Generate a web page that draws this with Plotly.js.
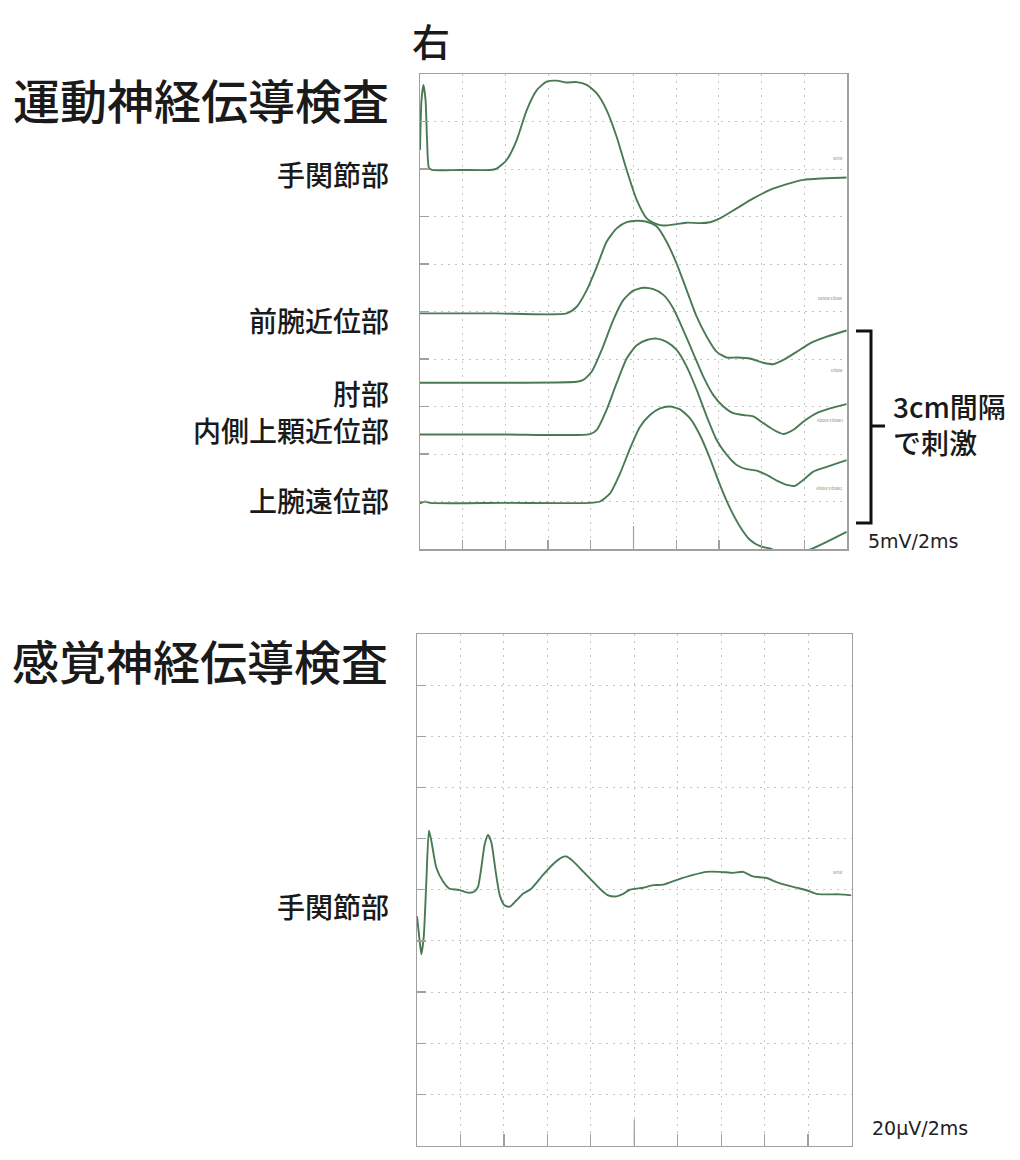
<!DOCTYPE html>
<html><head><meta charset="utf-8">
<script src="https://cdn.plot.ly/plotly-3.0.1.min.js"></script>
<style>body{margin:0;background:#fff}#chart{width:1020px;height:1160px}</style>
</head><body><div id="chart"></div>
<script>
// ---- Motor nerve conduction (x: ms, y: grid divisions, 5 mV/div) ----
const wristX = [0,0.07,0.16,0.26,0.33,0.42,0.56,1.87,3.28,3.59,4.06,4.53,5.00,5.47,5.93,6.40,6.87,7.34,7.81,8.28,8.74,9.21,9.68,10.15,10.62,11.09,11.40,12.02,12.49,13.11,13.58,14.05,14.83,15.61,16.39,17.18,17.95,18.74,19.98];
const wristY = [8.40,9.45,9.77,9.45,8.61,8.02,7.98,7.98,7.98,8.01,8.19,8.61,9.24,9.66,9.84,9.86,9.82,9.83,9.77,9.59,9.24,8.68,7.98,7.35,6.96,6.84,6.81,6.84,6.87,6.86,6.88,6.96,7.17,7.38,7.56,7.68,7.77,7.80,7.82];

const forearmX = [0,3.5,6.87,7.34,7.81,8.28,8.74,9.21,9.68,10.15,10.62,11.09,11.55,12.02,12.49,12.96,13.43,13.90,14.37,14.83,15.46,16.08,16.55,17.02,17.64,18.27,19.05,19.98];
const forearmY = [4.96,4.96,4.96,5.10,5.45,5.94,6.47,6.75,6.88,6.91,6.89,6.79,6.47,6.01,5.45,4.89,4.47,4.15,4.03,4.03,4.01,3.92,3.89,3.98,4.15,4.33,4.47,4.60];

const elbowX = [0,3.5,7.34,7.65,8.04,8.51,9.05,9.52,9.99,10.46,10.93,11.40,11.86,12.33,12.80,13.27,13.74,14.21,14.67,15.14,15.61,16.08,16.55,17.02,17.49,17.95,18.58,19.20,19.98];
const elbowY = [3.50,3.50,3.52,3.56,3.73,4.19,4.82,5.24,5.44,5.50,5.47,5.35,5.07,4.61,4.12,3.63,3.24,3.00,2.86,2.82,2.79,2.65,2.51,2.42,2.51,2.68,2.86,2.96,3.05];

const medEpiX = [0,4,7.96,8.28,8.74,9.21,9.68,10.15,10.62,11.09,11.55,12.02,12.49,12.96,13.43,13.90,14.37,14.83,15.30,15.77,16.24,16.71,17.18,17.56,17.95,18.42,19.05,19.98];
const medEpiY = [2.41,2.41,2.42,2.51,2.93,3.49,4.01,4.29,4.40,4.43,4.36,4.19,3.84,3.35,2.79,2.29,1.98,1.77,1.68,1.65,1.56,1.44,1.35,1.33,1.45,1.63,1.73,1.87];

const upperArmX = [0,0.23,0.47,4,7.96,8.43,8.90,9.37,9.84,10.30,10.77,11.24,11.71,12.18,12.65,13.11,13.58,14.05,14.52,14.99,15.46,15.93,16.39,16.9,17.4,17.9,18.27,19.05,19.98];
const upperArmY = [0.96,1.00,0.97,0.97,0.97,1.00,1.17,1.59,2.12,2.57,2.82,2.96,3.00,2.94,2.75,2.40,1.91,1.35,0.86,0.47,0.19,0.06,0.01,-0.08,-0.12,-0.05,-0.01,0.15,0.36];

// ---- Sensory nerve conduction (x: ms, y: grid divisions, 20 µV/div) ----
const sensX = [0,0.12,0.20,0.31,0.43,0.55,0.68,0.89,1.20,1.50,1.89,2.19,2.43,2.66,2.81,2.96,3.12,3.27,3.42,3.62,3.81,4.04,4.27,4.57,4.88,5.26,5.80,6.26,6.65,6.88,7.18,7.64,8.10,8.49,8.80,9.18,9.49,9.79,10.41,10.87,11.33,11.94,12.71,13.32,13.94,14.55,15.01,15.47,16.09,16.55,17.01,17.47,17.93,18.39,18.85,19.46,20.0];
const sensY = [4.48,4.01,3.74,4.08,5.16,6.16,5.91,5.43,5.16,5.02,5.00,4.96,4.94,4.97,5.06,5.43,5.90,6.07,5.93,5.36,4.89,4.69,4.67,4.79,4.92,5.02,5.29,5.50,5.63,5.65,5.56,5.36,5.16,4.99,4.89,4.87,4.92,5.00,5.04,5.09,5.10,5.19,5.29,5.35,5.35,5.33,5.35,5.26,5.23,5.15,5.09,5.04,4.99,4.92,4.91,4.91,4.89];

// ---- Text ----
const sideTitle = '右';
const motorTitle = '運動神経伝導検査';
const sensoryTitle = '感覚神経伝導検査';
const motorLabels = ['手関節部','前腕近位部','肘部','内側上顆近位部','上腕遠位部'];
const sensoryLabels = ['手関節部'];
const motorTags = ['Wrist','Below Elbow','Elbow','Above Elbow1','Above Elbow2'];
const bracketText = '3cm間隔<br>で刺激';
const motorScale = '5mV/2ms';
const sensoryScale = '20µV/2ms';

// ---- Layout helpers ----
const W = 1020, H = 1160;
const px = v => v / W;
const py = v => 1 - v / H;
const LINE = '#4a7a54';
const FONT = '"Noto Sans CJK JP", "Noto Sans", sans-serif';
const SCALEFONT = '"DejaVu Sans", "Noto Sans", sans-serif';

function wave(x, y, xa, ya) {
  return {x: x, y: y, xaxis: xa, yaxis: ya, type: 'scatter', mode: 'lines',
          line: {color: LINE, width: 1.9, shape: 'spline', smoothing: 0.6},
          hoverinfo: 'skip', showlegend: false};
}

const data = [
  wave(wristX, wristY, 'x', 'y'),
  wave(forearmX, forearmY, 'x', 'y'),
  wave(elbowX, elbowY, 'x', 'y'),
  wave(medEpiX, medEpiY, 'x', 'y'),
  wave(upperArmX, upperArmY, 'x', 'y'),
  wave(sensX, sensY, 'x2', 'y2')
];

function xax(domain, anchor, ticklen) {
  return {domain: domain, anchor: anchor, range: [0, 20], dtick: 2, tick0: 0,
    showgrid: true, gridcolor: '#c4c4c4', gridwidth: 1, griddash: '2px,5px',
    zeroline: false, showline: true, linecolor: '#a0a0a0', linewidth: 1.5, mirror: true,
    ticks: 'inside', ticklen: ticklen, tickcolor: '#a0a0a0', tickwidth: 1.2,
    showticklabels: false, fixedrange: true};
}
function yax(domain, anchor) {
  return {domain: domain, anchor: anchor, range: [0, 10], dtick: 1, tick0: 0,
    showgrid: true, gridcolor: '#c4c4c4', gridwidth: 1, griddash: '2px,5px',
    zeroline: false, showline: true, linecolor: '#a0a0a0', linewidth: 1.5, mirror: true,
    ticks: 'inside', ticklen: 9, tickcolor: '#a0a0a0', tickwidth: 1.2,
    showticklabels: false, fixedrange: true};
}

const topDomX = [px(420), px(847)], topDomY = [py(549), py(74)];
const botDomX = [px(417), px(851.5)], botDomY = [py(1145.5), py(634)];

const ann = [];
function txt(t, x, y, size, anchor, color, family, weight) {
  ann.push({text: t, x: px(x), y: py(y), xref: 'paper', yref: 'paper', showarrow: false,
    xanchor: anchor || 'right', yanchor: 'middle', align: 'left',
    font: {family: family || FONT, size: size, color: color || '#1a1a1a', weight: weight || 500}});
}
txt(sideTitle, 431, 40, 38, 'center');
txt(motorTitle, 201, 98, 47, 'center');
txt(sensoryTitle, 200, 659, 47, 'center');
const motorLabelY = [174, 320, 393, 430, 500];
motorLabels.forEach((t, i) => txt(t, 391, motorLabelY[i], 28, 'right'));
txt(sensoryLabels[0], 391, 906, 28, 'right');
txt(bracketText, 891, 424, 28, 'left');
txt(motorScale, 866, 541, 19, 'left', '#222', SCALEFONT, 400);
txt(sensoryScale, 870, 1128, 19, 'left', '#222', SCALEFONT, 400);
const tagY = [158, 298, 370, 420, 488];
motorTags.forEach((t, i) => txt(t, 845, tagY[i], 4, 'right', '#888', null, 400));
txt('Wrist', 845, 872, 4, 'right', '#888', null, 400);

const bx0 = px(856), bx1 = px(871), bx2 = px(885);
const by0 = py(331), by1 = py(523), bym = py(426);
const shapes = [
  {type: 'path', xref: 'paper', yref: 'paper',
   path: `M ${bx0} ${by0} L ${bx1} ${by0} L ${bx1} ${by1} L ${bx0} ${by1} M ${bx1} ${bym} L ${bx2} ${bym}`,
   line: {color: '#111', width: 3}},
  {type: 'line', xref: 'x', yref: 'y domain', x0: 10, x1: 10, y0: 0, y1: 23/475,
   line: {color: '#a0a0a0', width: 1.2}},
  {type: 'line', xref: 'x2', yref: 'y2 domain', x0: 10, x1: 10, y0: 0, y1: 26/511,
   line: {color: '#a0a0a0', width: 1.2}}
];

const layout = {
  width: W, height: H, autosize: false,
  margin: {l: 0, r: 0, t: 0, b: 0, pad: 0},
  paper_bgcolor: '#fff', plot_bgcolor: '#fff',
  showlegend: false,
  xaxis: xax(topDomX, 'y', 9), yaxis: yax(topDomY, 'x'),
  xaxis2: xax(botDomX, 'y2', 12), yaxis2: yax(botDomY, 'x2'),
  annotations: ann, shapes: shapes,
  font: {family: FONT}
};

Plotly.newPlot('chart', data, layout, {staticPlot: true, displayModeBar: false});
</script>
</body></html>
